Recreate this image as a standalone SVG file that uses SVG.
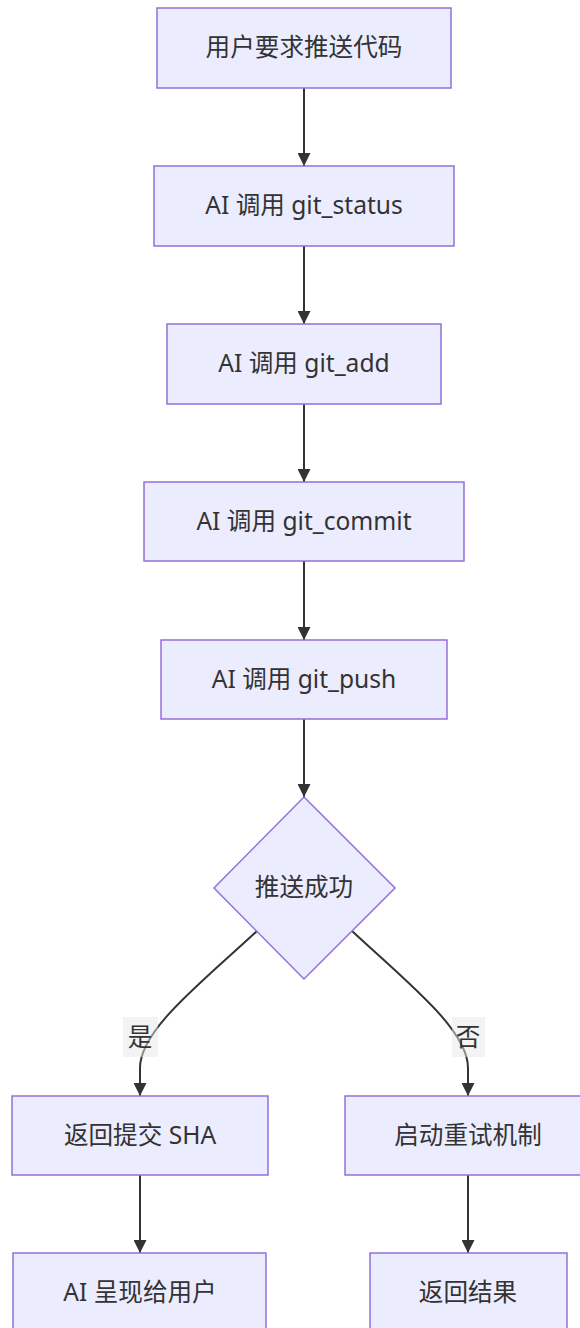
<svg xmlns="http://www.w3.org/2000/svg" width="580" height="1328" viewBox="0 0 580 1328">
  <style>
    .node rect, .node polygon { fill: #ECECFF; stroke: #9370DB; stroke-width: 1.5; }
    .node text, .label text { font-family: "Noto Sans", "Noto Sans CJK SC", sans-serif; font-size: 24.6px; fill: #333333; text-anchor: middle; dominant-baseline: central; }
    .edge { fill: none; stroke: #333333; stroke-width: 2; }
    .label rect { fill: #e8e8e8; fill-opacity: 0.5; }
  </style>
  <defs>
    <marker id="arrow" viewBox="0 0 10 10" refX="10" refY="5" markerUnits="userSpaceOnUse" markerWidth="13" markerHeight="13" orient="auto">
      <path d="M0,0 L10,5 L0,10 z" fill="#333333"/>
    </marker>
  </defs>
  <rect width="580" height="1328" fill="#ffffff"/>

  <!-- connectors -->
  <g id="edges">
    <path class="edge" d="M304,88 L304,166" marker-end="url(#arrow)"/>
    <path class="edge" d="M304,246 L304,324" marker-end="url(#arrow)"/>
    <path class="edge" d="M304,404 L304,482" marker-end="url(#arrow)"/>
    <path class="edge" d="M304,561 L304,640" marker-end="url(#arrow)"/>
    <path class="edge" d="M304,719 L304,797" marker-end="url(#arrow)"/>
    <path class="edge" d="M257,931 C200,984 140,1030 140,1068 L140,1096" marker-end="url(#arrow)"/>
    <path class="edge" d="M352,931 C409,984 468,1030 468,1068 L468,1096" marker-end="url(#arrow)"/>
    <path class="edge" d="M140,1175 L140,1253" marker-end="url(#arrow)"/>
    <path class="edge" d="M468,1175 L468,1253" marker-end="url(#arrow)"/>
  </g>

  <!-- edge labels -->
  <g id="label-yes" class="label">
    <rect x="123" y="1017" width="35" height="40"/>
    <text x="140" y="1036">是</text>
  </g>
  <g id="label-no" class="label">
    <rect x="452" y="1017" width="33" height="40"/>
    <text x="468" y="1036">否</text>
  </g>

  <!-- nodes -->
  <g id="n1" class="node">
    <rect x="157" y="8" width="294" height="80"/>
    <text x="304" y="46.5">用户要求推送代码</text>
  </g>
  <g id="n2" class="node">
    <rect x="154" y="166" width="300" height="80"/>
    <text x="304" y="204.5">AI 调用 git_status</text>
  </g>
  <g id="n3" class="node">
    <rect x="167" y="324" width="274" height="80"/>
    <text x="304" y="362.5">AI 调用 git_add</text>
  </g>
  <g id="n4" class="node">
    <rect x="144" y="482" width="320" height="79"/>
    <text x="304" y="520">AI 调用 git_commit</text>
  </g>
  <g id="n5" class="node">
    <rect x="161" y="640" width="286" height="79"/>
    <text x="304" y="678">AI 调用 git_push</text>
  </g>
  <g id="n6" class="node">
    <polygon points="304,797 395,888 304,979 214,888"/>
    <text x="304" y="886.5">推送成功</text>
  </g>
  <g id="n7" class="node">
    <rect x="12" y="1096" width="256" height="79"/>
    <text x="140" y="1134.5">返回提交 SHA</text>
  </g>
  <g id="n8" class="node">
    <rect x="345" y="1096" width="246" height="79"/>
    <text x="468" y="1134.5">启动重试机制</text>
  </g>
  <g id="n9" class="node">
    <rect x="13" y="1253" width="253" height="90"/>
    <text x="140" y="1291.5">AI 呈现给用户</text>
  </g>
  <g id="n10" class="node">
    <rect x="370" y="1253" width="197" height="90"/>
    <text x="468" y="1291.5">返回结果</text>
  </g>
</svg>
